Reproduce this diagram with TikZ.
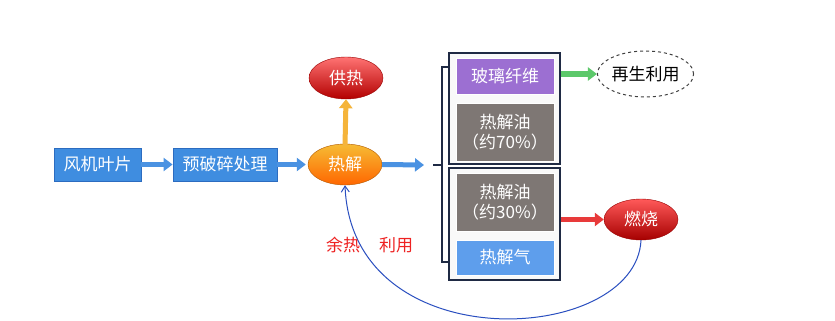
\documentclass[tikz,border=0pt]{standalone}
\usepackage{fontspec}
\setmainfont{Noto Sans CJK SC}
\usetikzlibrary{shapes.geometric,arrows.meta}
\definecolor{boxblue}{HTML}{3F8DE0}
\definecolor{boxblueb}{HTML}{2C6CC0}
\definecolor{purp}{HTML}{9C6FD2}
\definecolor{oilgray}{HTML}{7E7774}
\definecolor{gasblue}{HTML}{5E9EEC}
\definecolor{navy}{HTML}{1F2A44}
\definecolor{arrblue}{HTML}{4A92E2}
\definecolor{arrorange}{HTML}{F5B43A}
\definecolor{arrgreen}{HTML}{5CC86A}
\definecolor{arrred}{HTML}{E83A3A}
\definecolor{curveblue}{HTML}{2A4FC0}
\definecolor{txtred}{HTML}{EE2222}
\tikzset{
  txt/.style={font=\fontsize{17}{20}\selectfont, text=white},
  bluebox/.style={txt, rectangle, fill=boxblue, draw=boxblueb, line width=0.8pt, inner sep=0pt},
  innerbox/.style={txt, rectangle, draw=white, line width=1pt, inner sep=0pt, minimum width=98pt, align=center},
  outerbox/.style={rectangle, draw=navy, line width=2.5pt, fill=white!95!gray, inner sep=0pt, minimum width=111pt},
  ell/.style={txt, ellipse, inner sep=0pt},
  blockarrow/.style={line width=5pt, -{Triangle[length=9pt,width=13pt]}},
  bracket/.style={draw=navy, line width=1.2pt},
}
\begin{document}
\begin{tikzpicture}[x=1pt,y=-1pt]
\useasboundingbox[fill=white] (0,0) rectangle (835,321);
% left chain
\node[bluebox, minimum width=87pt, minimum height=33pt] (fj) at (97.5,164.5) {风机叶片};
\node[bluebox, minimum width=104pt, minimum height=33pt] (ypc) at (225,164.5) {预破碎处理};
\node[ell, minimum width=74pt, minimum height=41pt, top color=arrorange!90!yellow, bottom color=orange!80!red, draw=orange!70!black, line width=0.4pt] (rj) at (345,164.5) {热解};
\node[ell, minimum width=74pt, minimum height=42pt, top color=red!55!white, bottom color=red!70!black, draw=red!60!black, line width=0.4pt] (gr) at (346,78) {供热};
% right groups
\node[outerbox, minimum height=111pt] (up) at (504.5,108.5) {};
\node[outerbox, minimum height=112pt] (lo) at (504.5,224) {};
\node[innerbox, fill=purp, minimum height=35pt] (bl) at (505,76.5) {玻璃纤维};
\node[innerbox, fill=oilgray, minimum height=58pt] (oil70) at (505,132) {热解油\\（约70\%）};
\node[innerbox, fill=oilgray, minimum height=58pt] (oil30) at (505,202) {热解油\\（约30\%）};
\node[innerbox, fill=gasblue, minimum height=35pt] (gas) at (505,257.5) {热解气};
\node[ellipse, draw=black!75, dashed, line width=1pt, minimum width=85pt, minimum height=46pt, inner sep=0pt, font=\fontsize{17}{20}\selectfont] (zs) at (645.5,74) {再生利用};
\node[ell, minimum width=74pt, minimum height=41pt, top color=red!65!white, bottom color=red!65!black, draw=red!60!black, line width=0.4pt] (rs) at (641,219.5) {燃烧};
% bracket
\coordinate (brin) at (424,165);
\coordinate (brtick) at (433,165);
\coordinate (brtop) at (450,67);
\coordinate (brbot) at (450,262);
\draw[bracket] (brtop) -- (442,67) -- (442,262) -- (brbot);
\draw[bracket] (brtick) -- (442,165);
% arrows
\draw[blockarrow, arrblue] (fj.east) -- (ypc.west);
\draw[blockarrow, arrblue] (ypc.east) -- ([xshift=-2pt]rj.west);
\draw[blockarrow, arrblue] (rj.east) -- (brin);
\draw[blockarrow, arrorange] ([yshift=-2pt]rj.north) -- (gr.south);
\draw[blockarrow, arrgreen] (up.east |- zs.west) -- (zs.west);
\draw[blockarrow, arrred] (lo.east |- rs.west) -- (rs.west);
% waste heat loop
\draw[curveblue, line width=1pt, -{Straight Barb[length=6pt,width=8pt]}] (rs.south) .. controls (636,345) and (352,362) .. (rj.south);
\node[text=txtred, font=\fontsize{17}{20}\selectfont] (yr) at (343,245) {余热};
\node[text=txtred, font=\fontsize{17}{20}\selectfont] (ly) at (396,245) {利用};
\end{tikzpicture}
\end{document}
